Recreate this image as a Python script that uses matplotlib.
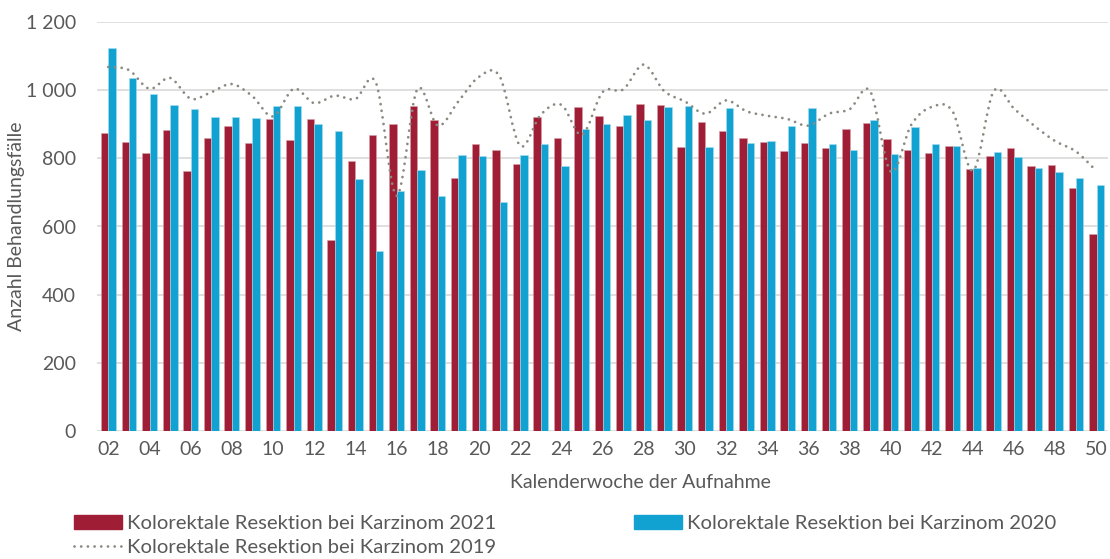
import matplotlib
matplotlib.use("Agg")
import matplotlib.pyplot as plt
import numpy as np
from matplotlib.path import Path
from matplotlib.patches import PathPatch, Patch
from matplotlib.lines import Line2D

plt.rcParams['font.family'] = ['Lato', 'DejaVu Sans']

weeks = [f"{w:02d}" for w in range(2, 51)]

vals_2021 = [875, 849, 815, 883, 763, 859, 896, 845, 916, 853, 916, 559, 791,
             869, 902, 955, 912, 743, 842, 824, 783, 922, 860, 951, 925,
             896, 960, 957, 832, 907, 881, 861, 849, 821, 845, 831, 887,
             904, 856, 824, 815, 835, 770, 806, 831, 778, 780, 712, 577]

vals_2020 = [1125, 1036, 990, 957, 945, 921, 920, 918, 954, 955, 900, 881, 739,
             529, 703, 767, 690, 809, 806, 672, 809, 842, 777, 885, 902,
             927, 913, 950, 954, 834, 948, 845, 851, 896, 949, 843, 825,
             913, 813, 892, 841, 837, 772, 818, 803, 773, 760, 742, 722]

vals_2019 = [1068, 1059, 1004, 1036, 975, 994, 1018, 982, 923, 1004, 962, 984, 974,
             1021, 690, 1002, 896, 967, 1039, 1041, 837, 928, 957, 869, 994,
             1002, 1075, 997, 967, 931, 970, 938, 925, 915, 896, 931, 944,
             997, 761, 899, 951, 938, 764, 997, 945, 894, 850, 820, 762]

label_2021 = "Kolorektale Resektion bei Karzinom 2021"
label_2020 = "Kolorektale Resektion bei Karzinom 2020"
label_2019 = "Kolorektale Resektion bei Karzinom 2019"

c_red = "#A01E35"
c_blue = "#12A2D2"
c_line = "#8A8A80"
c_text = "#595959"
c_grid = "#D9D9D9"
fs = 14

fig = plt.figure(figsize=(11.10, 5.59), dpi=100)
ax = fig.add_axes([97 / 1110, 1 - 431 / 559, (1108 - 97) / 1110, (431 - 22) / 559])

x = np.arange(len(weeks))
bw = 0.36
ax.bar(x - bw / 2, vals_2021, width=bw, color=c_red, edgecolor="#D9A0AA", linewidth=0.4, zorder=2)
ax.bar(x + bw / 2, vals_2020, width=bw, color=c_blue, edgecolor="#A8DDEE", linewidth=0.4, zorder=2)

# smoothed dotted line (Catmull-Rom rendered as cubic Bezier)
pts = np.column_stack([x, vals_2019]).astype(float)
verts = [tuple(pts[0])]
codes = [Path.MOVETO]
n = len(pts)
for i in range(n - 1):
    p0 = pts[i - 1] if i > 0 else pts[i]
    p1 = pts[i]
    p2 = pts[i + 1]
    p3 = pts[i + 2] if i + 2 < n else pts[i + 1]
    c1 = p1 + (p2 - p0) / 6.0
    c2 = p2 - (p3 - p1) / 6.0
    verts += [tuple(c1), tuple(c2), tuple(p2)]
    codes += [Path.CURVE4] * 3
dot_style = (0, (0.01, 2.4))
patch = PathPatch(Path(verts, codes), fill=False, edgecolor=c_line, linewidth=2.0,
                  linestyle=dot_style, capstyle='round', zorder=3)
ax.add_patch(patch)

ax.set_xlim(-0.55, len(weeks) - 0.45)
ax.set_ylim(0, 1200)
ax.set_yticks(range(0, 1201, 200))
ax.set_yticklabels([f"{v:,}".replace(",", " ") for v in range(0, 1201, 200)])
ax.set_xticks(x[::2])
ax.set_xticklabels(weeks[::2])
ax.tick_params(axis='both', length=0, labelsize=fs, colors=c_text)
ax.tick_params(axis='x', pad=7)
ax.tick_params(axis='y', pad=15)
ax.grid(axis='y', color=c_grid, linewidth=1.2, zorder=0)
ax.set_axisbelow(True)
for s in ax.spines.values():
    s.set_visible(False)

ax.set_ylabel("Anzahl Behandlungsfälle", fontsize=fs, color=c_text)
ax.yaxis.set_label_coords(-0.071, 0.5)
ax.set_xlabel("Kalenderwoche der Aufnahme", fontsize=fs, color=c_text)
ax.xaxis.set_label_coords(0.538, -0.105)

h_red = Patch(facecolor=c_red, edgecolor=c_red)
h_blue = Patch(facecolor=c_blue, edgecolor=c_blue)
h_line = Line2D([0], [0], color=c_line, linewidth=2.0, linestyle=dot_style, dash_capstyle='round')
leg = fig.legend([h_red, h_line, h_blue], [label_2021, label_2019, label_2020],
                 ncol=2, loc='upper left', bbox_to_anchor=(74 / 1110, 1 - 515 / 559),
                 frameon=False, fontsize=14.6, handlelength=2.35, handleheight=0.7,
                 handletextpad=0.25, columnspacing=6.8, labelspacing=0.32,
                 borderaxespad=0, borderpad=0)
for t in leg.get_texts():
    t.set_color(c_text)

fig.savefig("out.png", dpi=100)
